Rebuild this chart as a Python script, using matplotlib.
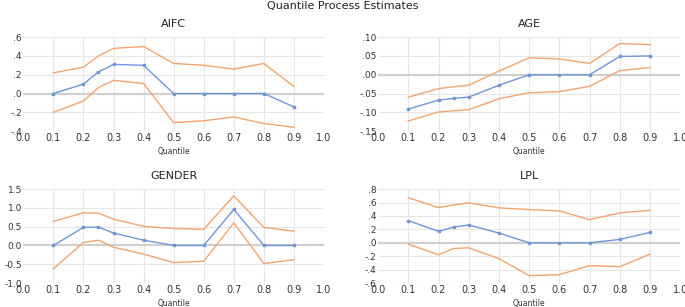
import matplotlib.pyplot as plt
import numpy as np

# quantiles
quantiles = [0.1, 0.2, 0.25, 0.3, 0.4, 0.5, 0.6, 0.7, 0.8, 0.9]
grid_q = [0.1, 0.2, 0.3, 0.4, 0.5, 0.6, 0.7, 0.8, 0.9]
x_ticks = [0.0, 0.1, 0.2, 0.3, 0.4, 0.5, 0.6, 0.7, 0.8, 0.9, 1.0]

# AIFC
aifc_est = [0.0, 0.10, 0.23, 0.31, 0.30, 0.0, 0.0, 0.0, 0.0, -0.143]
aifc_hi = [0.22, 0.28, 0.40, 0.48, 0.50, 0.32, 0.30, 0.26, 0.32, 0.075]
aifc_lo = [-0.20, -0.08, 0.064, 0.14, 0.107, -0.31, -0.29, -0.25, -0.32, -0.36]
aifc_yticks = [-0.4, -0.2, 0.0, 0.2, 0.4, 0.6]
aifc_ylabels = ['-.4', '-.2', '.0', '.2', '.4', '.6']

# AGE
age_est = [-0.0914, -0.0675, -0.063, -0.0596, -0.028, 0.0, 0.0, 0.0, 0.0486, 0.050]
age_hi = [-0.0596, -0.037, -0.032, -0.028, 0.0096, 0.045, 0.042, 0.030, 0.083, 0.080]
age_lo = [-0.123, -0.099, -0.096, -0.093, -0.064, -0.048, -0.045, -0.031, 0.011, 0.019]
age_yticks = [-0.15, -0.10, -0.05, 0.0, 0.05, 0.10]
age_ylabels = ['-.15', '-.10', '-.05', '.00', '.05', '.10']

# GENDER
gender_est = [0.0, 0.48, 0.49, 0.33, 0.14, 0.0, 0.0, 0.96, 0.0, 0.0]
gender_hi = [0.64, 0.87, 0.86, 0.70, 0.51, 0.45, 0.43, 1.32, 0.48, 0.38]
gender_lo = [-0.62, 0.08, 0.14, -0.045, -0.23, -0.455, -0.42, 0.60, -0.48, -0.38]
gender_yticks = [-1.0, -0.5, 0.0, 0.5, 1.0, 1.5]
gender_ylabels = ['-1.0', '-0.5', '0.0', '0.5', '1.0', '1.5']

# LPL
lpl_est = [0.33, 0.17, 0.235, 0.265, 0.145, 0.0, 0.0, 0.0, 0.05, 0.155]
lpl_hi = [0.67, 0.525, 0.565, 0.595, 0.52, 0.495, 0.475, 0.345, 0.445, 0.485]
lpl_lo = [-0.02, -0.18, -0.085, -0.075, -0.235, -0.49, -0.475, -0.34, -0.355, -0.17]
lpl_yticks = [-0.6, -0.4, -0.2, 0.0, 0.2, 0.4, 0.6, 0.8]
lpl_ylabels = ['-.6', '-.4', '-.2', '.0', '.2', '.4', '.6', '.8']

blue = '#6f96d6'
orange = '#f2a46e'
grid_col = '#e6e6e6'

fig = plt.figure(figsize=(6.85, 3.07), dpi=100)
fig.text(0.5, 0.998, 'Quantile Process Estimates', ha='center', va='top', fontsize=8, color='#222222')

panels = [
    ('AIFC', aifc_est, aifc_hi, aifc_lo, aifc_yticks, aifc_ylabels, [0.034, 0.573, 0.439, 0.306]),
    ('AGE', age_est, age_hi, age_lo, age_yticks, age_ylabels, [0.552, 0.573, 0.441, 0.306]),
    ('GENDER', gender_est, gender_hi, gender_lo, gender_yticks, gender_ylabels, [0.034, 0.078, 0.439, 0.306]),
    ('LPL', lpl_est, lpl_hi, lpl_lo, lpl_yticks, lpl_ylabels, [0.552, 0.078, 0.441, 0.306]),
]

for name, est, hi, lo, yt, yl, pos in panels:
    ax = fig.add_axes(pos)
    ax.set_xlim(0, 1)
    ax.set_ylim(yt[0], yt[-1])
    # grid
    for y in yt:
        if y == 0:
            ax.axhline(0, color='#d0d0d0', lw=1.6, zorder=1)
        else:
            ax.axhline(y, color=grid_col, lw=0.8, zorder=0)
    ax.vlines(grid_q, yt[0], yt[-1], color=grid_col, lw=0.8, zorder=0)
    ax.plot(quantiles, hi, color=orange, lw=1.0, zorder=3)
    ax.plot(quantiles, lo, color=orange, lw=1.0, zorder=3)
    ax.plot(quantiles, est, color=blue, lw=1.0, marker='s', ms=2, zorder=4)
    ax.set_xticks(x_ticks)
    ax.set_xticklabels(['%.1f' % v for v in x_ticks], fontsize=7, color='#333333')
    ax.set_yticks(yt)
    ax.set_yticklabels(yl, fontsize=6.5, color='#333333')
    ax.tick_params(axis='x', length=0, pad=1.5)
    ax.tick_params(axis='y', length=0, pad=1)
    for s in ax.spines.values():
        s.set_visible(False)
    ax.set_title(name, fontsize=8, color='#222222', pad=7)
    ax.set_xlabel('Quantile', fontsize=5.5, color='#333333', labelpad=3)

plt.savefig('out.png', dpi=100)
